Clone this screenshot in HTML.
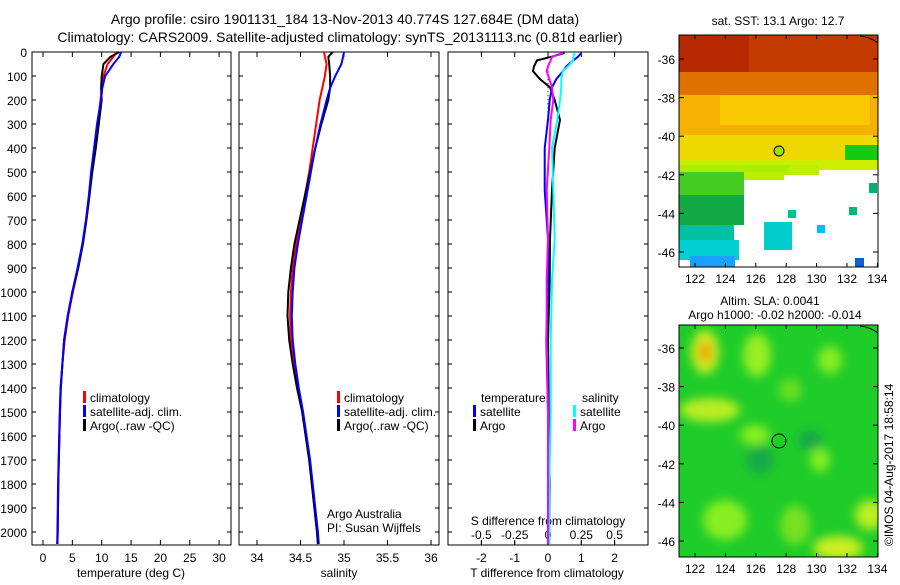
<!DOCTYPE html>
<html><head><meta charset="utf-8">
<style>
body{margin:0;background:#fff;}
svg text{font-family:"Liberation Sans",sans-serif;font-size:12px;fill:#000;}
</style></head>
<body>
<svg id="chart" width="900" height="580" viewBox="0 0 900 580" xmlns="http://www.w3.org/2000/svg">
<defs>
<filter id="blur" x="-20%" y="-20%" width="140%" height="140%"><feGaussianBlur stdDeviation="5"/></filter>
<clipPath id="clipSst"><rect x="679" y="35" width="199" height="232"/></clipPath>
<clipPath id="clipSla"><rect x="679" y="325" width="199" height="232"/></clipPath>
</defs>
<text x="345" y="24" text-anchor="middle" style="font-size:14px">Argo profile: csiro 1901131_184 13-Nov-2013 40.774S 127.684E (DM data)</text>
<text x="340" y="42" text-anchor="middle" style="font-size:14px">Climatology: CARS2009. Satellite-adjusted climatology: synTS_20131113.nc (0.81d earlier)</text>

<g id="sst-map" clip-path="url(#clipSst)">
<rect x="679" y="35" width="199" height="232" fill="#fff"/>
<rect x="679" y="35" width="199" height="40" fill="#c43a00"/>
<rect x="679" y="35" width="70" height="60" fill="#b82800"/>
<rect x="679" y="72" width="199" height="25" fill="#e07000"/>
<rect x="679" y="95" width="199" height="45" fill="#f5b000"/>
<rect x="720" y="95" width="150" height="30" fill="#fac800"/>
<rect x="679" y="135" width="199" height="30" fill="#eed800"/>
<rect x="679" y="160" width="199" height="10" fill="#ccee00"/>
<rect x="679" y="165" width="110" height="10" fill="#aaee00"/>
<rect x="789" y="165" width="30" height="10" fill="#bbee00"/>
<rect x="679" y="172" width="65" height="25" fill="#44cc22"/>
<rect x="744" y="172" width="40" height="8" fill="#bbee00"/>
<rect x="845" y="145" width="33" height="15" fill="#11cc11"/>
<rect x="679" y="195" width="65" height="30" fill="#11aa44"/>
<rect x="679" y="225" width="55" height="20" fill="#00c0a0"/>
<rect x="679" y="240" width="60" height="20" fill="#00d0d0"/>
<rect x="690" y="256" width="45" height="11" fill="#1aa0ff"/>
<rect x="764" y="222" width="28" height="28" fill="#00cccc"/>
<rect x="788" y="210" width="8" height="8" fill="#00c090"/>
<rect x="817" y="225" width="8" height="8" fill="#00bbff"/>
<rect x="849" y="207" width="8" height="8" fill="#00b878"/>
<rect x="855" y="258" width="9" height="9" fill="#0060dd"/>
<rect x="869" y="183" width="8" height="10" fill="#00b070"/>
<circle cx="779" cy="151" r="5" fill="#9be000" stroke="#000" stroke-width="1"/>
</g>
<rect x="679" y="35" width="199" height="232" fill="none" stroke="#000"/>
<text x="778" y="25" text-anchor="middle">sat. SST: 13.1  Argo: 12.7</text>

<g id="sla-map" clip-path="url(#clipSla)">
<rect x="679" y="325" width="199" height="232" fill="#1ecc2a"/>
<g filter="url(#blur)">
<ellipse cx="705" cy="352" rx="14" ry="22" fill="#ccee22"/>
<ellipse cx="705" cy="352" rx="7" ry="10" fill="#f0a000"/>
<ellipse cx="757" cy="355" rx="14" ry="22" fill="#99ee22"/>
<ellipse cx="710" cy="410" rx="30" ry="12" fill="#bbee22"/>
<ellipse cx="790" cy="390" rx="12" ry="12" fill="#66dd22"/>
<ellipse cx="755" cy="435" rx="15" ry="10" fill="#88ee22"/>
<ellipse cx="830" cy="360" rx="12" ry="14" fill="#88ee22"/>
<ellipse cx="820" cy="460" rx="10" ry="12" fill="#88ee22"/>
<ellipse cx="870" cy="515" rx="15" ry="15" fill="#bbee22"/>
<ellipse cx="838" cy="548" rx="25" ry="12" fill="#ccee22"/>
<ellipse cx="725" cy="520" rx="22" ry="20" fill="#88ee22"/>
<ellipse cx="795" cy="525" rx="15" ry="20" fill="#77e022"/>
<ellipse cx="760" cy="460" rx="14" ry="14" fill="#17a848"/>
<ellipse cx="810" cy="440" rx="12" ry="10" fill="#17a848"/>
</g>
<circle cx="779" cy="441" r="7" fill="none" stroke="#000"/>
</g>
<rect x="679" y="325" width="199" height="232" fill="none" stroke="#000"/>
<text x="770" y="305" text-anchor="middle">Altim. SLA: 0.0041</text>
<text x="775" y="319" text-anchor="middle">Argo h1000: -0.02 h2000: -0.014</text>
<text transform="translate(893,546) rotate(-90)">©IMOS 04-Aug-2017 18:58:14</text>
<g id="map-axes"></g>
<g id="profiles"></g>
</svg>
<script>
// ---- data ----
const depthTicks=[0,100,200,300,400,500,600,700,800,900,1000,1100,1200,1300,1400,1500,1600,1700,1800,1900,2000];
const tempTicks=[0,5,10,15,20,25,30];
const salTicks=[34,34.5,35,35.5,36];
const salTickLabels=["34","34.5","35","35.5","36"];
const tdiffTicks=[-2,-1,0,1,2];
const sdiffTicks=[-0.5,-0.25,0,0.25,0.5];
const sdiffTickLabels=["-0.5","-0.25","0","0.25","0.5"];
const lonTicks=[122,124,126,128,130,132,134];
const latTicks=[-36,-38,-40,-42,-44,-46];

const depths=[0,20,50,100,150,200,300,400,500,600,700,800,900,1000,1100,1200,1300,1400,1500,1600,1700,1800,1900,2000,2050];
const tempClim=[12.5,12.0,11.0,10.3,10.0,9.8,9.3,8.8,8.3,7.9,7.4,6.8,6.0,5.1,4.3,3.7,3.3,3.0,2.85,2.75,2.65,2.55,2.5,2.45,2.4];
const tempSat =[13.3,13.0,12.0,10.6,10.1,9.9,9.2,8.7,8.2,7.8,7.3,6.7,5.9,5.0,4.2,3.6,3.3,3.05,2.9,2.8,2.7,2.6,2.55,2.5,2.45];
const tempArgo=[13.0,11.5,10.3,10.0,9.9,10.0,9.5,9.0,8.4,7.9,7.4,6.8,6.0,5.0,4.2,3.6,3.3,3.0,2.9,2.8,2.7,2.6,2.55,2.5,2.45];
const salClim=[34.77,34.78,34.8,34.78,34.75,34.72,34.68,34.64,34.6,34.55,34.5,34.45,34.41,34.39,34.38,34.39,34.42,34.47,34.52,34.56,34.6,34.63,34.66,34.69,34.7];
const salSat =[35.0,34.99,34.97,34.9,34.84,34.8,34.73,34.67,34.62,34.57,34.52,34.47,34.43,34.41,34.4,34.41,34.44,34.48,34.53,34.57,34.61,34.64,34.67,34.7,34.71];
const salArgo=[34.87,34.82,34.83,34.84,34.84,34.82,34.74,34.67,34.61,34.55,34.49,34.43,34.39,34.36,34.35,34.37,34.41,34.46,34.52,34.56,34.6,34.63,34.66,34.69,34.7];

const diffDepths=[4,20,35,60,80,113,147,200,283,400,575,780,950,1200,1500,1800,2050];
const tdiffSat =[1.0,0.9,0.76,0.55,0.45,0.25,0.12,0.05,0.0,-0.1,-0.1,0.0,0.0,-0.05,0.0,0.03,0.02];
const tdiffArgo=[0.5,0.1,-0.33,-0.42,-0.45,-0.24,0.06,0.2,0.36,0.2,0.12,0.06,0.05,0.0,0.02,0.05,0.03];
const sdiffSat =[0.2,0.19,0.19,0.15,0.11,0.1,0.1,0.09,0.07,0.03,0.04,0.05,0.03,0.02,0.02,0.01,0.01];
const sdiffArgo=[0.11,0.03,0.02,0.0,-0.01,0.01,0.03,0.04,0.02,0.01,-0.01,0.0,-0.01,-0.01,0.0,0.0,0.0];

// ---- layout ----
const NS="http://www.w3.org/2000/svg";
const topY=52,botY=545;
const yD=d=>topY+d*0.24;
const P1={x0:32,x1:231}, P2={x0:239,x1:439}, P3={x0:448,x1:648};
const xT=v=>43+v*5.87;
const xS=v=>257+(v-34)*87;
const xTd=v=>548+v*33.3;
const xSd=v=>548+v*133.2;
const xLon=v=>695+(v-122)*15.2;
const yLat1=v=>59+(-36-v)*19.3;
const yLat2=v=>348+(-36-v)*19.3;
const g=document.getElementById('profiles');
const ga=document.getElementById('map-axes');
function mk(tag,attrs,parent){const e=document.createElementNS(NS,tag);for(const k in attrs)e.setAttribute(k,attrs[k]);(parent||g).appendChild(e);return e;}
function txt(s,x,y,anchor,parent,size){const e=mk('text',{x:x,y:y,'text-anchor':anchor||'start'},parent);if(size)e.style.fontSize=size+'px';e.textContent=s;return e;}

[[P1,'temperature-panel'],[P2,'salinity-panel'],[P3,'difference-panel']].forEach(([p,n])=>{
  const r=mk('rect',{x:p.x0,y:topY,width:p.x1-p.x0,height:botY-topY,fill:'none',stroke:'#000'});
  
  
});
depthTicks.forEach(d=>{
  const y=yD(d);
  [P1,P2,P3].forEach(p=>{mk('line',{x1:p.x0,x2:p.x0+4,y1:y,y2:y,stroke:'#000'});mk('line',{x1:p.x1-4,x2:p.x1,y1:y,y2:y,stroke:'#000'});});
  const t=txt(String(d),27,y+5,'end');
  
  
});
function xaxis(ticks,labels,fx,yb,ytop,ylab){
  ticks.forEach((v,i)=>{const x=fx(v);
    mk('line',{x1:x,x2:x,y1:yb,y2:yb-5,stroke:'#000'});
    if(ytop!==null) mk('line',{x1:x,x2:x,y1:ytop,y2:ytop+5,stroke:'#000'});
    const t=txt(labels[i],x,ylab,'middle');
    
    
  });
}
xaxis(tempTicks,tempTicks.map(String),xT,botY,topY,562);
xaxis(salTicks,salTickLabels,xS,botY,topY,562);
xaxis(tdiffTicks,tdiffTicks.map(String),xTd,botY,topY,562);
sdiffTicks.forEach((v,i)=>{const x=xSd(v);mk('line',{x1:x,x2:x,y1:botY,y2:botY-4,stroke:'#000'});
  const t=txt(sdiffTickLabels[i],x,539,'middle');
  
  });
const t1=txt('temperature (deg C)',131,577,'middle');
const t2=txt('salinity',339,577,'middle');
const t3=txt('T difference from climatology',547,577,'middle');
const t4=txt('S difference from climatology',548,525,'middle');
const t5=txt('Argo Australia',327,518,'start');
const t6=txt('PI: Susan Wijffels',327,532,'start');

function line(xs,ds,fx,color,name,w){
  const pts=xs.map((v,i)=>fx(v).toFixed(1)+','+yD(ds[i]).toFixed(1)).join(' ');
  const e=mk('polyline',{points:pts,fill:'none',stroke:color,'stroke-width':w||2});
  
  
}
line(tempClim,depths,xT,'#f00','temp-climatology-line');
line(tempArgo,depths,xT,'#000','temp-argo-line');
line(tempSat,depths,xT,'#00f','temp-satellite-line');
line(salClim,depths,xS,'#f00','sal-climatology-line');
line(salArgo,depths,xS,'#000','sal-argo-line');
line(salSat,depths,xS,'#00f','sal-satellite-line');
mk('line',{x1:548,x2:548,y1:yD(80),y2:yD(260),stroke:'#000','stroke-dasharray':'1,3'});
line(tdiffArgo,diffDepths,xTd,'#000','tdiff-argo-line');
line(tdiffSat,diffDepths,xTd,'#00f','tdiff-satellite-line');
line(sdiffSat,diffDepths,xSd,'#0ff','sdiff-satellite-line');
line(sdiffArgo,diffDepths,xSd,'#f0f','sdiff-argo-line');

function legend(x,y,color,label,name){
  const m=mk('rect',{x:x,y:y-11,width:3,height:12,fill:color});
  
  
  const t=txt(label,x+7,y,'start');
  
  
}
[[83,'temp'],[337,'sal']].forEach(([x,n])=>{
  legend(x,402,'#f00','climatology',n+'-legend-climatology');
  legend(x,416,'#00f','satellite-adj. clim.',n+'-legend-satellite');
  legend(x,430,'#000','Argo(..raw -QC)',n+'-legend-argo');
});
const lt=txt('temperature',481,402,'start');
const ls=txt('salinity',582,402,'start');
legend(473,416,'#00f','satellite','diff-legend-t-satellite');
legend(473,430,'#000','Argo','diff-legend-t-argo');
legend(573,416,'#0ff','satellite','diff-legend-s-satellite');
legend(573,430,'#f0f','Argo','diff-legend-s-argo');

[[yLat1,35,267],[yLat2,325,557]].forEach(([fy,y0,y1])=>{
  latTicks.forEach(v=>{const y=fy(v);
    mk('line',{x1:679,x2:684,y1:y,y2:y,stroke:'#000'},ga);mk('line',{x1:873,x2:878,y1:y,y2:y,stroke:'#000'},ga);
    const t=txt(String(v),675,y+5,'end',ga,12);});
  lonTicks.forEach(v=>{const x=xLon(v);
    mk('line',{x1:x,x2:x,y1:y0,y2:y0+4,stroke:'#000'},ga);mk('line',{x1:x,x2:x,y1:y1,y2:y1-4,stroke:'#000'},ga);
    const t=txt(String(v),x,y1+16,'middle',ga,12);});
  mk('path',{d:'M860 '+(y0+1)+' Q870 '+(y0+2)+' 878 '+(y0+8),fill:'none',stroke:'#000'},ga);
});
</script>
</body></html>
